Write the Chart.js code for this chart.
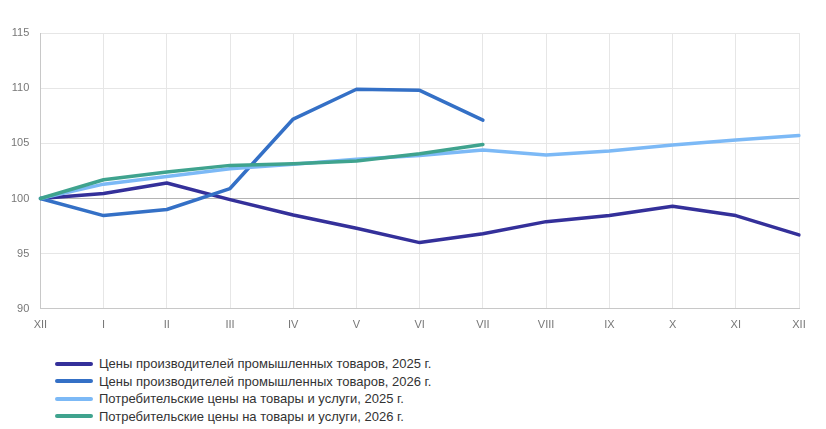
<!DOCTYPE html>
<html>
<head>
<meta charset="utf-8">
<script src="https://cdn.jsdelivr.net/npm/chart.js@4"></script>
<style>
  body { margin: 0; background: #fff; }
  #wrap { position: relative; width: 826px; height: 429px; }
  #box { position: absolute; left: 0; top: 0; width: 826px; height: 342px; }
  #legend { position: absolute; left: 55px; top: 355px; font-family: "Liberation Sans", Arial, sans-serif; font-size: 13px; color: #333; }
  .item { display: flex; align-items: center; height: 17.5px; }
  .swatch { width: 38px; height: 4px; border-radius: 2px; margin-right: 6px; }
</style>
</head>
<body>
<div id="wrap">
  <div id="box"><canvas id="myChart"></canvas></div>
  <div id="legend"></div>
</div>
<script>
// months, December of previous year = 100
const months = ["XII", "I", "II", "III", "IV", "V", "VI", "VII", "VIII", "IX", "X", "XI", "XII"];
const ppi2025 = [100, 100.45, 101.4, 99.9, 98.5, 97.3, 96.0, 96.8, 97.9, 98.45, 99.3, 98.45, 96.7];
const ppi2026 = [100, 98.45, 99.0, 100.9, 107.2, 109.9, 109.8, 107.1, null, null, null, null, null];
const cpi2025 = [100, 101.3, 102.0, 102.7, 103.1, 103.55, 103.9, 104.4, 103.95, 104.3, 104.85, 105.3, 105.7];
const cpi2026 = [100, 101.7, 102.4, 103.0, 103.15, 103.4, 104.05, 104.9, null, null, null, null, null];
const yTicks = [90, 95, 100, 105, 110, 115];

const seriesNames = [
  "Цены производителей промышленных товаров, 2025 г.",
  "Цены производителей промышленных товаров, 2026 г.",
  "Потребительские цены на товары и услуги, 2025 г.",
  "Потребительские цены на товары и услуги, 2026 г."
];
const seriesData = [ppi2025, ppi2026, cpi2025, cpi2026];
const lineColors = ["#34309a", "#3470c6", "#7cb9f6", "#3fa38e"];

const datasets = seriesData.map((d, i) => ({
  label: seriesNames[i],
  data: d,
  borderColor: lineColors[i],
  backgroundColor: lineColors[i],
  borderWidth: 3.5,
  pointRadius: 0,
  tension: 0,
  borderCapStyle: "round",
  borderJoinStyle: "round",
  spanGaps: false,
  // later series drawn on top, like the reference
  order: 3 - i
}));

const font = { family: "'Liberation Sans', Arial, sans-serif", size: 11 };

new Chart("myChart", {
  type: "line",
  data: { labels: months, datasets: datasets },
  options: {
    responsive: true,
    maintainAspectRatio: false,
    animation: false,
    layout: { padding: { top: 33, right: 27, left: 0, bottom: 0 } },
    plugins: { legend: { display: false }, tooltip: { enabled: false } },
    scales: {
      x: {
        offset: false,
        grid: { color: "#e6e6e6", drawTicks: false },
        border: { color: "#c8c8c8" },
        ticks: { color: "#777", font: font, padding: 10, maxRotation: 0, autoSkip: false }
      },
      y: {
        min: yTicks[0],
        max: yTicks[yTicks.length - 1],
        afterBuildTicks: axis => { axis.ticks = yTicks.map(v => ({ value: v })); },
        grid: {
          color: ctx => ctx.tick && ctx.tick.value === 100 ? "#b4b4b4" : "#e6e6e6",
          drawTicks: false
        },
        border: { color: "#c8c8c8" },
        ticks: { color: "#777", font: font, padding: 11 }
      }
    }
  }
});

// legend as a vertical list below the chart
const legend = document.getElementById("legend");
seriesNames.forEach((name, i) => {
  const row = document.createElement("div");
  row.className = "item";
  row.innerHTML = '<span class="swatch" style="background:' + lineColors[i] + '"></span><span>' + name + '</span>';
  legend.appendChild(row);
});
</script>
</body>
</html>
